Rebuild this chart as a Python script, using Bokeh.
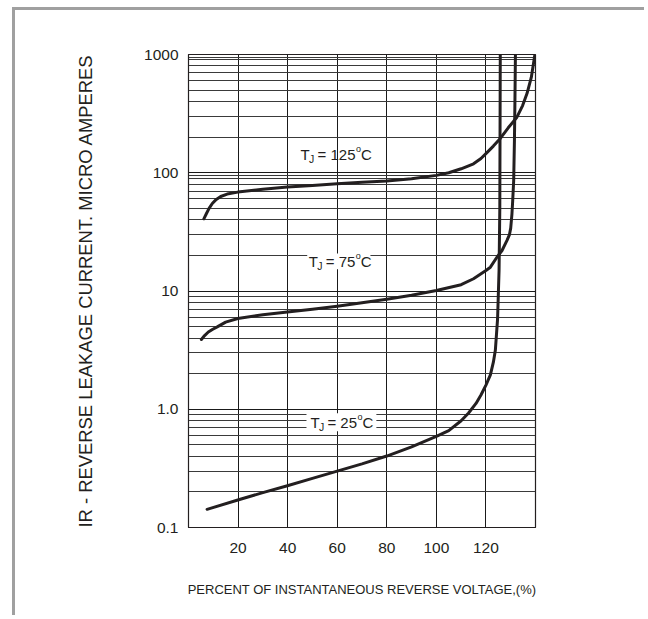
from bokeh.plotting import figure
from bokeh.models import Range1d, FixedTicker, Label, BoxAnnotation
from bokeh.embed import file_html
from bokeh.resources import INLINE

# ---------------- data ----------------
x_t125 = [6.2, 7.2, 8.3, 9.6, 11.2, 13.0, 15.6, 19.9, 30, 39.9, 50, 60, 70, 80, 90, 100, 105, 110, 115, 118, 120, 123, 125.8, 129, 132.5, 134.8, 136.6, 138.3, 139.7]
y_t125 = [40.8, 45, 50, 55, 59.5, 63, 66, 68.6, 72.5, 75.6, 78, 80.7, 83, 85, 89, 95, 100, 108, 119, 132, 145, 168, 195, 240, 295, 370, 470, 640, 980]

x_t75 = [5.2, 6.5, 8, 9.8, 11.6, 15, 19.9, 30, 39.9, 50, 60, 70, 80, 90, 100, 110, 115, 120, 121.8, 124.5, 126.5, 128.5, 129.5, 130.0, 130.5, 130.8, 131.2, 131.5, 131.7, 131.9, 132.0]
y_t75 = [3.89, 4.2, 4.5, 4.75, 4.97, 5.45, 5.85, 6.3, 6.65, 7.0, 7.43, 7.95, 8.51, 9.2, 10.1, 11.3, 12.7, 14.9, 15.9, 19.4, 22, 26.8, 30, 34, 45, 58, 86, 187, 400, 1000, 1200]

x_t25 = [7.5, 19.9, 30, 39.9, 50, 60, 70, 80, 90, 100, 105, 110, 113, 116, 118, 120, 121.8, 123, 123.8, 124.7, 125.3, 125.6, 125.8]
y_t25 = [0.1425, 0.171, 0.197, 0.2255, 0.26, 0.300, 0.345, 0.402, 0.48, 0.59, 0.66, 0.80, 0.93, 1.12, 1.32, 1.6, 1.95, 2.5, 3.15, 5.8, 15, 50, 1200]

x_ticks = [20, 40, 60, 80, 100, 120]
y_ticks = [0.1, 1, 10, 100, 1000]
y_tick_labels = ["0.1", "1.0", "10", "100", "1000"]
y_minor = [m * d for d in (0.1, 1, 10, 100) for m in (2, 3, 4, 5, 6, 7, 8, 9)] + [95, 950]

temps = ["125", "75", "25"]

x_title = "PERCENT OF INSTANTANEOUS REVERSE VOLTAGE,(%)"
y_title = "IR - REVERSE LEAKAGE CURRENT. MICRO AMPERES"

INK = "#231f20"
FONT = "Liberation Sans"

p = figure(width=632, height=608, x_range=Range1d(0, 140), y_range=Range1d(0.1, 1000),
           y_axis_type="log", output_backend="svg", toolbar_location=None,
           min_border_left=173, min_border_right=112, min_border_top=44, min_border_bottom=91)
# outer gray frame of the picture (top and left edges)
p.styles = {"margin-left": "12px", "margin-top": "7px",
            "border-left": "3px solid #a0a0a0", "border-top": "3px solid #a0a0a0"}
p.background_fill_color = "white"
p.border_fill_color = "white"
p.outline_line_color = INK
p.outline_line_width = 1.2

# axes
p.xaxis.ticker = FixedTicker(ticks=x_ticks)
p.yaxis.ticker = FixedTicker(ticks=y_ticks, minor_ticks=y_minor)
p.yaxis.major_label_overrides = {v: s for v, s in zip(y_ticks, y_tick_labels)}
for ax in (p.xaxis, p.yaxis):
    ax.major_tick_line_color = None
    ax.minor_tick_line_color = None
    ax.axis_line_color = INK
    ax.major_label_text_font = FONT
    ax.major_label_text_font_size = "15.5px"
    ax.major_label_text_color = INK
    ax.axis_label_text_font_style = "normal"
    ax.axis_label_text_color = INK
p.yaxis.major_label_standoff = 4
p.xaxis.major_label_standoff = 9
p.xaxis.axis_label = x_title
p.xaxis.axis_label_text_font = FONT
p.xaxis.axis_label_text_font_size = "13px"
p.xaxis.axis_label_standoff = 26
p.yaxis.axis_label = y_title
p.yaxis.axis_label_text_font = FONT
p.yaxis.axis_label_text_font_size = "18.4px"
p.yaxis.axis_label_standoff = 45

# grids
p.xgrid.ticker = FixedTicker(ticks=x_ticks)
p.ygrid.ticker = FixedTicker(ticks=y_ticks, minor_ticks=y_minor)
p.xgrid.grid_line_color = "#1a1a1a"
p.xgrid.grid_line_width = 1
p.ygrid.grid_line_color = "#1a1a1a"
p.ygrid.grid_line_width = 1
p.ygrid.minor_grid_line_color = "#3a3a3a"
p.ygrid.minor_grid_line_width = 1

# curves
for xs, ys in ((x_t125, y_t125), (x_t75, y_t75), (x_t25, y_t25)):
    p.line(xs, ys, line_color=INK, line_width=3, line_join="round", line_cap="round")

# curve labels: (x, y) of the label's left/middle, white background box
label_pos = [(45.2, 143, None), (48.5, 17.9, (47.9, 73.4, 15.25, 20.8)), (49.2, 0.778, (47.6, 75.8, 0.653, 0.927))]
for t, (lx, ly, box) in zip(temps, label_pos):
    if box is not None:
        p.add_layout(BoxAnnotation(left=box[0], right=box[1], bottom=box[2], top=box[3],
                                   fill_color="white", fill_alpha=1, line_color=None))
    main = "= " + t
    main_w = 8.76 + 4.17 + 8.34 * len(t)
    pieces = [("T", 0, 0, "15px"), ("J", 8.5, -5, "10.5px"), (main, 17, 0, "15px"),
              ("o", 17 + main_w + 0.5, 5, "9px"), ("C", 17 + main_w + 5.5, 0, "15px")]
    for txt, dx, dy, fs in pieces:
        p.add_layout(Label(x=lx, y=ly, x_offset=dx, y_offset=dy, text=txt, text_font=FONT,
                           text_font_size=fs, text_color=INK, text_baseline="middle",
                           text_align="left"))

open("out.html", "w").write(file_html(p, INLINE))
